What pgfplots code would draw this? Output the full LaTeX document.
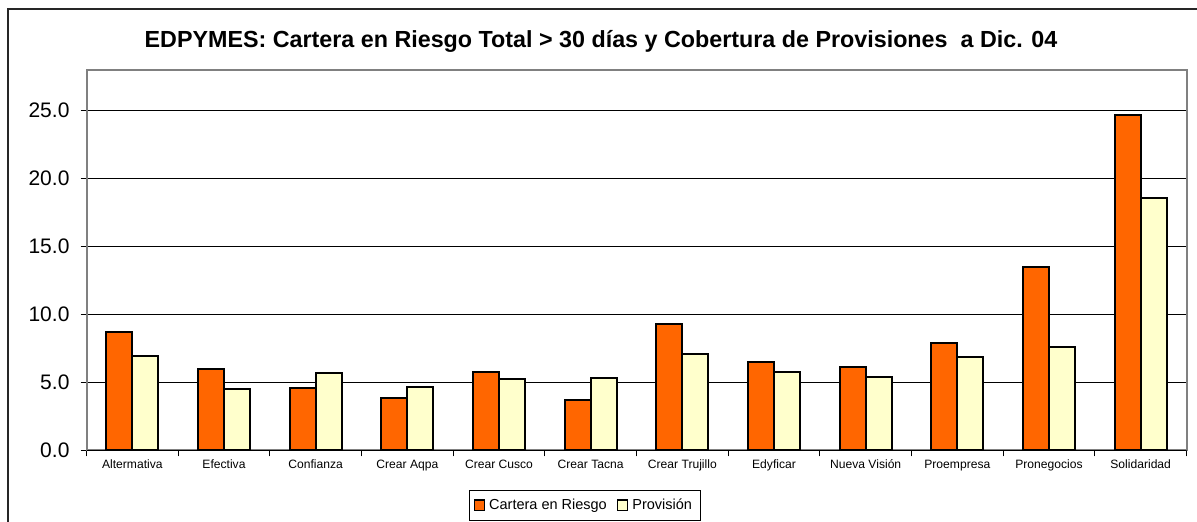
\documentclass[border=0pt]{standalone}
\usepackage{pgfplots}
\pgfplotsset{compat=1.18}
\usepackage{fontspec}
\setmainfont{Liberation Sans}
\definecolor{barorange}{HTML}{FF6600}
\definecolor{barcream}{HTML}{FFFFCC}
\begin{document}
\begin{tikzpicture}
\begin{axis}[
  at={(43.25pt,35.35pt)}, anchor=south west,
  scale only axis, width=550pt, height=190.15pt,
  xmin=-0.5, xmax=11.5, ymin=0, ymax=27.96,
  ybar=0pt, bar width=13pt,
  xtick={-0.5,0.5,...,11.5},
  x tick label as interval,
  xticklabels={Altermativa,Efectiva,Confianza,Crear Aqpa,Crear Cusco,Crear Tacna,Crear Trujillo,Edyficar,Nueva Visión,Proempresa,Pronegocios,Solidaridad},
  x tick label style={font=\fontsize{6.05}{7}\selectfont, yshift=1.8pt},
  ytick={0,5,...,25},
  y tick label style={font=\fontsize{10.5}{12}\selectfont, xshift=-2pt},
  xtick pos=bottom, ytick pos=left,
  /pgf/number format/.cd, fixed, fixed zerofill, precision=1, assume math mode=true, /pgfplots/.cd,
  tick align=outside, major tick length=3pt,
  tick style={black, line width=0.6pt},
  ymajorgrids, major grid style={black, line width=0.5pt},
  axis line style={gray, line width=1pt},
  legend style={at={(0.453,-0.145)}, anchor=center, legend columns=-1, draw=black, line width=0.5pt,
    font=\fontsize{7.25}{9}\selectfont, inner sep=2pt,
    /tikz/every even column/.append style={column sep=3pt}},
  legend image code/.code={\draw[#1,line width=0.8pt] (0pt,-2.6pt) rectangle (5pt,2.6pt);},
]
\addplot[fill=barorange, draw=black, line width=1pt] coordinates {
  (0,8.72) (1,5.98) (2,4.56) (3,3.87) (4,5.73) (5,3.70) (6,9.31) (7,6.49) (8,6.10) (9,7.91) (10,13.45) (11,24.65)};
\addplot[fill=barcream, draw=black, line width=1pt] coordinates {
  (0,6.93) (1,4.48) (2,5.68) (3,4.63) (4,5.22) (5,5.29) (6,7.06) (7,5.78) (8,5.37) (9,6.88) (10,7.60) (11,18.57)};
\legend{Cartera en Riesgo,Provisión}
\draw[black, line width=0.6pt] (axis cs:-0.5,0) -- (axis cs:11.5,0);
\end{axis}
\node[font=\bfseries\fontsize{11.65}{13}\selectfont] at (300.5pt,240pt) {EDPYMES: Cartera en Riesgo Total > 30 días y Cobertura de Provisiones\ \ a Dic. 04};
\draw[black!85, line width=0.8pt] (4pt,-10pt) -- (4pt,256pt) -- (610pt,256pt);
\pgfresetboundingbox
\path (0,0) rectangle (598.5pt,260.5pt);
\end{tikzpicture}
\end{document}
